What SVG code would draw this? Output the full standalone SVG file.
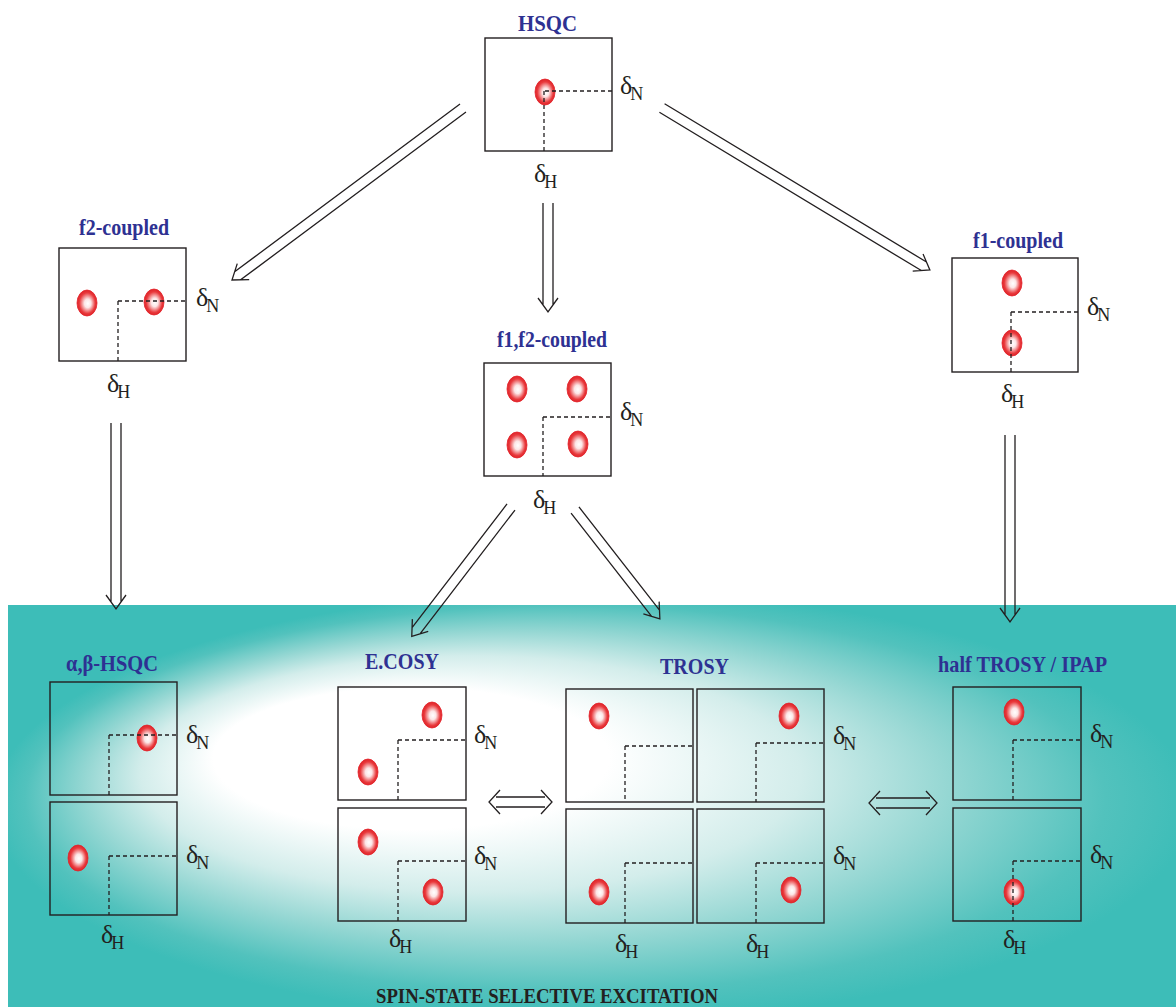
<svg xmlns="http://www.w3.org/2000/svg" width="1176" height="1007" viewBox="0 0 1176 1007">
<defs>
<radialGradient id="bg" gradientUnits="userSpaceOnUse" cx="0" cy="0" r="1" fx="-0.45" fy="-0.33" gradientTransform="translate(592,806) scale(600,215)">
<stop offset="0" stop-color="#ffffff"/>
<stop offset="0.33" stop-color="#ffffff"/>
<stop offset="0.55" stop-color="#d3edeb"/>
<stop offset="0.72" stop-color="#95d7d3"/>
<stop offset="0.9" stop-color="#52c2bd"/>
<stop offset="1" stop-color="#3dbdb8"/>
</radialGradient>
<radialGradient id="pk" cx="0.5" cy="0.5" r="0.55" fx="0.55" fy="0.52">
<stop offset="0" stop-color="#ffffff"/>
<stop offset="0.3" stop-color="#fce6e6"/>
<stop offset="0.72" stop-color="#e93a3d"/>
<stop offset="1" stop-color="#d7191f"/>
</radialGradient>
<style>
.box{fill:none;stroke:#231f20;stroke-width:1.4}
.dash{fill:none;stroke:#231f20;stroke-width:1.3;stroke-dasharray:4 3}
.pk{fill:url(#pk);stroke:#e42229;stroke-width:0.8}
.ax{font-family:"Liberation Serif",serif;font-size:26px;fill:#231f20}
.sub{font-size:18px}
.lbl{font-family:"Liberation Serif",serif;font-weight:bold;font-size:24px;fill:#2e3192}
.arr{fill:none;stroke:#231f20;stroke-width:1.3}
</style>
</defs>
<rect x="8" y="605" width="1168" height="402" fill="url(#bg)"/>

<g id="connectors" class="arr">
<path transform="translate(463,108) rotate(143.33)" d="M0,-5H281M0,5H281M274,-10L288,0L274,10"/>
<path transform="translate(662,108) rotate(31.15)" d="M0,-5H306M0,5H306M299,-10L313,0L299,10"/>
<path transform="translate(548,203) rotate(90)" d="M0,-5H102M0,5H102M95,-10L109,0L95,10"/>
<path transform="translate(116,423) rotate(90)" d="M0,-5H179M0,5H179M172,-10L186,0L172,10"/>
<path transform="translate(1010,435) rotate(90)" d="M0,-5H180M0,5H180M173,-10L187,0L173,10"/>
<path transform="translate(511,507) rotate(127.5)" d="M0,-5H156M0,5H156M149,-10L163,0L149,10"/>
<path transform="translate(575,510) rotate(52.05)" d="M0,-5H131M0,5H131M124,-10L138,0L124,10"/>
<path d="M496,797H545M496,807H545M500,790L489,802L500,814M541,790L552,802L541,814"/>
<path d="M876,798H930M876,808H930M880,791L869,803L880,815M926,791L937,803L926,815"/>
</g>

<g id="hsqc">
<text class="lbl" x="518" y="31" textLength="59" lengthAdjust="spacingAndGlyphs">HSQC</text>
<rect class="box" x="485" y="38" width="127" height="113"/>
<ellipse class="pk" cx="545" cy="92" rx="10" ry="13"/>
<path class="dash" d="M545,91H612M544,91V151"/>
<text class="ax" x="620" y="94">δ<tspan class="sub" dx="-2" dy="6">N</tspan></text>
<text class="ax" x="534" y="182">δ<tspan class="sub" dx="-2" dy="6">H</tspan></text>
</g>

<g id="f2-coupled">
<text class="lbl" x="79" y="235" textLength="90" lengthAdjust="spacingAndGlyphs">f2-coupled</text>
<rect class="box" x="59" y="248" width="127" height="113"/>
<ellipse class="pk" cx="87" cy="303" rx="10" ry="13"/>
<ellipse class="pk" cx="154" cy="302" rx="10" ry="13"/>
<path class="dash" d="M118,301H186M118,301V361"/>
<text class="ax" x="196" y="306">δ<tspan class="sub" dx="-2" dy="6">N</tspan></text>
<text class="ax" x="107" y="392">δ<tspan class="sub" dx="-2" dy="6">H</tspan></text>
</g>

<g id="f1-coupled">
<text class="lbl" x="973" y="248" textLength="90" lengthAdjust="spacingAndGlyphs">f1-coupled</text>
<rect class="box" x="952" y="258" width="126" height="114"/>
<ellipse class="pk" cx="1012" cy="283" rx="10" ry="13"/>
<ellipse class="pk" cx="1012" cy="343" rx="10" ry="13"/>
<path class="dash" d="M1011,312H1078M1011,312V372"/>
<text class="ax" x="1087" y="315">δ<tspan class="sub" dx="-2" dy="6">N</tspan></text>
<text class="ax" x="1001" y="402">δ<tspan class="sub" dx="-2" dy="6">H</tspan></text>
</g>

<g id="f1f2-coupled">
<text class="lbl" x="497" y="347" textLength="110" lengthAdjust="spacingAndGlyphs">f1,f2-coupled</text>
<rect class="box" x="484" y="363" width="127" height="113"/>
<ellipse class="pk" cx="517" cy="389" rx="10" ry="13"/>
<ellipse class="pk" cx="577" cy="389" rx="10" ry="13"/>
<ellipse class="pk" cx="517" cy="445" rx="10" ry="13"/>
<ellipse class="pk" cx="578" cy="444" rx="10" ry="13"/>
<path class="dash" d="M543,417H611M543,417V476"/>
<text class="ax" x="620" y="420">δ<tspan class="sub" dx="-2" dy="6">N</tspan></text>
<text class="ax" x="533" y="508">δ<tspan class="sub" dx="-2" dy="6">H</tspan></text>
</g>

<g id="ab-hsqc">
<text class="lbl" x="66" y="671" textLength="92" lengthAdjust="spacingAndGlyphs">α,β-HSQC</text>
<rect class="box" x="50" y="682" width="127" height="113"/>
<rect class="box" x="50" y="802" width="127" height="113"/>
<ellipse class="pk" cx="147" cy="738" rx="10" ry="13"/>
<ellipse class="pk" cx="78" cy="858" rx="10" ry="13"/>
<path class="dash" d="M109,735H177M109,735V795M109,856H177M109,856V915"/>
<text class="ax" x="186" y="743">δ<tspan class="sub" dx="-2" dy="6">N</tspan></text>
<text class="ax" x="186" y="863">δ<tspan class="sub" dx="-2" dy="6">N</tspan></text>
<text class="ax" x="101" y="943">δ<tspan class="sub" dx="-2" dy="6">H</tspan></text>
</g>

<g id="ecosy">
<text class="lbl" x="365" y="669" textLength="74" lengthAdjust="spacingAndGlyphs">E.COSY</text>
<rect class="box" x="338" y="687" width="128" height="113"/>
<rect class="box" x="338" y="808" width="128" height="113"/>
<ellipse class="pk" cx="432" cy="715" rx="10" ry="13"/>
<ellipse class="pk" cx="368" cy="772" rx="10" ry="13"/>
<ellipse class="pk" cx="368" cy="842" rx="10" ry="13"/>
<ellipse class="pk" cx="433" cy="892" rx="10" ry="13"/>
<path class="dash" d="M398,740H466M398,740V800M398,861H466M398,861V921"/>
<text class="ax" x="474" y="743">δ<tspan class="sub" dx="-2" dy="6">N</tspan></text>
<text class="ax" x="474" y="864">δ<tspan class="sub" dx="-2" dy="6">N</tspan></text>
<text class="ax" x="389" y="947">δ<tspan class="sub" dx="-2" dy="6">H</tspan></text>
</g>

<g id="trosy">
<text class="lbl" x="660" y="674" textLength="69" lengthAdjust="spacingAndGlyphs">TROSY</text>
<rect class="box" x="566" y="689" width="127" height="113"/>
<rect class="box" x="697" y="689" width="127" height="113"/>
<rect class="box" x="566" y="809" width="127" height="114"/>
<rect class="box" x="697" y="809" width="127" height="114"/>
<ellipse class="pk" cx="599" cy="716" rx="10" ry="13"/>
<ellipse class="pk" cx="789" cy="716" rx="10" ry="13"/>
<ellipse class="pk" cx="599" cy="892" rx="10" ry="13"/>
<ellipse class="pk" cx="791" cy="890" rx="10" ry="13"/>
<path class="dash" d="M625,746H693M625,746V802M756,743H824M756,743V802M625,863H693M625,863V923M756,863H824M756,863V923"/>
<text class="ax" x="833" y="744">δ<tspan class="sub" dx="-2" dy="6">N</tspan></text>
<text class="ax" x="833" y="864">δ<tspan class="sub" dx="-2" dy="6">N</tspan></text>
<text class="ax" x="615" y="952">δ<tspan class="sub" dx="-2" dy="6">H</tspan></text>
<text class="ax" x="746" y="952">δ<tspan class="sub" dx="-2" dy="6">H</tspan></text>
</g>

<g id="half-trosy">
<text class="lbl" x="938" y="672" textLength="169" lengthAdjust="spacingAndGlyphs">half TROSY / IPAP</text>
<rect class="box" x="953" y="687" width="128" height="113"/>
<rect class="box" x="953" y="808" width="128" height="113"/>
<ellipse class="pk" cx="1014" cy="712" rx="10" ry="13"/>
<ellipse class="pk" cx="1014" cy="892" rx="10" ry="13"/>
<path class="dash" d="M1013,740H1081M1013,740V800M1013,861H1081M1013,861V921"/>
<text class="ax" x="1090" y="742">δ<tspan class="sub" dx="-2" dy="6">N</tspan></text>
<text class="ax" x="1090" y="863">δ<tspan class="sub" dx="-2" dy="6">N</tspan></text>
<text class="ax" x="1003" y="948">δ<tspan class="sub" dx="-2" dy="6">H</tspan></text>
</g>

<text x="376" y="1003" font-family="Liberation Serif, serif" font-weight="bold" font-size="21" fill="#231f20" textLength="342" lengthAdjust="spacingAndGlyphs">SPIN-STATE SELECTIVE EXCITATION</text>
</svg>
